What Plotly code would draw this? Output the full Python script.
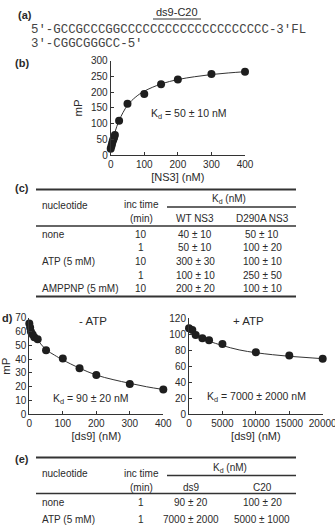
import plotly.graph_objects as go

W, H = 335, 525

# ---------------- data ----------------
seq_top = "5'-GCCGCCCGGCCCCCCCCCCCCCCCCCCCC-3'FL"
seq_bot = "3'-CGGCGGGCC-5'"

# (b) mP vs [NS3]
b_x = [0, 2, 4, 6, 8, 10, 12.5, 25, 50, 100, 150, 200, 300, 400]
b_y = [20, 28, 36, 44, 50, 56, 64, 109, 163, 194, 225, 240, 258, 265]
b_fit_x = [0, 5, 12.5, 25, 50, 75, 100, 150, 200, 250, 300, 350, 400]
b_fit_y = [20, 45, 72, 110, 158, 185, 203, 226, 240, 249, 256, 261, 265]
b_ticks = [0, 100, 200, 300, 400]
b_yticks = [0, 50, 100, 150, 200, 250, 300]

# (c) table
c_nuc = ["none", "", "ATP (5 mM)", "", "AMPPNP (5 mM)"]
c_time = ["10", "1", "10", "1", "10"]
c_wt = ["40 ± 10", "50 ± 10", "300 ± 30", "100 ± 10", "200 ± 20"]
c_mut = ["50 ± 10", "100 ± 20", "100 ± 10", "250 ± 50", "100 ± 10"]

# (d) - ATP
dl_x = [0, 2.5, 5, 10, 15, 25, 50, 100, 150, 200, 300, 400]
dl_y = [66, 63, 60, 58, 56, 54.5, 46.5, 40.5, 33.5, 28.5, 22, 18]
dl_fit_x = [0, 10, 25, 50, 75, 100, 150, 200, 250, 300, 350, 400]
dl_fit_y = [66, 60, 54, 47, 43, 39.5, 33.5, 28.5, 25.2, 22.5, 20, 18]
dl_ticks = [0, 100, 200, 300, 400]
dl_yticks = [0, 10, 20, 30, 40, 50, 60, 70]

# (d) + ATP
dr_x = [0, 500, 1000, 2000, 3000, 5000, 10000, 15000, 20000]
dr_y = [107.5, 105.5, 99, 95, 92.5, 88, 77.5, 73.5, 69.5]
dr_fit_x = [0, 500, 1000, 2000, 3000, 5000, 7500, 10000, 12500, 15000, 17500, 20000]
dr_fit_y = [108, 104, 100.5, 95.5, 91.5, 86, 80.5, 77, 74.5, 72.5, 71, 69.5]
dr_ticks = [0, 5000, 10000, 15000, 20000]
dr_yticks = [0, 20, 40, 60, 80, 100, 120]

# (e) table
e_nuc = ["none", "ATP (5 mM)"]
e_time = ["1", "1"]
e_ds9 = ["90 ± 20", "7000 ± 2000"]
e_c20 = ["100 ± 20", "5000 ± 1000"]

# ---------------- helpers ----------------
FONT = "Liberation Sans, Arial, sans-serif"
TXT = "#2a2a2a"
MK = "#1e1e1e"
TS = 10  # table font size


def px(x):
    return x / W


def py(y):
    return 1 - y / H


annotations = []
shapes = []


def text(x, y, s, size=10, xanchor="center", font=FONT, color=TXT):
    annotations.append(dict(x=px(x), y=py(y), xref="paper", yref="paper", text=s,
                            showarrow=False, xanchor=xanchor, yanchor="middle",
                            font=dict(size=size, family=font, color=color)))


def hline(x0, x1, y, w=1.5, color="#333"):
    shapes.append(dict(type="line", xref="paper", yref="paper", x0=px(x0), x1=px(x1),
                       y0=py(y), y1=py(y), line=dict(color=color, width=w)))


fig = go.Figure()

# ---------------- (a) ----------------
text(25, 15, "<b>(a)</b>", 11)
text(177, 12, "ds9-C20", 11)
hline(153, 201, 19, 1, "#333")
text(29, 30, seq_top, 12.4, "left", "Liberation Mono, Courier New, monospace", "#444")
text(29, 44, seq_bot, 12.4, "left", "Liberation Mono, Courier New, monospace", "#444")

# ---------------- (b) ----------------
fig.add_trace(go.Scatter(x=b_fit_x, y=b_fit_y, mode="lines", line=dict(color="#333", width=1, shape="spline"),
                         xaxis="x", yaxis="y", showlegend=False, hoverinfo="skip"))
fig.add_trace(go.Scatter(x=b_x, y=b_y, mode="markers", marker=dict(color=MK, size=8),
                         xaxis="x", yaxis="y", showlegend=False, cliponaxis=False))
text(22, 63, "<b>(b)</b>", 11)
text(189, 114, "K<sub>d</sub> = 50 ± 10 nM", 10.5)

# ---------------- (d) ----------------
fig.add_trace(go.Scatter(x=dl_fit_x, y=dl_fit_y, mode="lines", line=dict(color="#333", width=1, shape="spline"),
                         xaxis="x2", yaxis="y2", showlegend=False, hoverinfo="skip"))
fig.add_trace(go.Scatter(x=dl_x, y=dl_y, mode="markers", marker=dict(color=MK, size=8),
                         xaxis="x2", yaxis="y2", showlegend=False, cliponaxis=False))
fig.add_trace(go.Scatter(x=dr_fit_x, y=dr_fit_y, mode="lines", line=dict(color="#333", width=1, shape="spline"),
                         xaxis="x3", yaxis="y3", showlegend=False, hoverinfo="skip"))
fig.add_trace(go.Scatter(x=dr_x, y=dr_y, mode="markers", marker=dict(color=MK, size=8),
                         xaxis="x3", yaxis="y3", showlegend=False, cliponaxis=False))
text(7, 318, "<b>d)</b>", 11)
text(93, 321, "- ATP", 11.5)
text(248, 321, "+ ATP", 11.5)
text(91, 399, "K<sub>d</sub> = 90 ± 20 nM", 10.5)
text(256, 397, "K<sub>d</sub> = 7000 ± 2000 nM", 10.5)

# ---------------- (c) table ----------------
L, R = 36, 296
text(22, 188, "<b>(c)</b>", 11)
hline(L, R, 189.5, 2)
text(40, 205.5, "nucleotide", TS, "left")
text(141, 205, "inc time", TS)
text(141, 218.5, "(min)", TS)
text(229, 199, "K<sub>d</sub> (nM)", TS)
hline(167, R, 207, 1.5)
text(195, 218.5, "WT NS3", TS)
text(262, 218.5, "D290A NS3", TS)
hline(L, R, 226, 1.5)
c_rows_y = [234, 247.7, 261, 275, 288.3]
for i, yy in enumerate(c_rows_y):
    if c_nuc[i]:
        text(40, yy, c_nuc[i], TS, "left")
    text(141, yy, c_time[i], TS)
    text(195, yy, c_wt[i], TS)
    text(262, yy, c_mut[i], TS)
hline(L, R, 296.5, 2)

# ---------------- (e) table ----------------
text(22, 459, "<b>(e)</b>", 11)
hline(L, R, 457.5, 2)
text(40, 474, "nucleotide", TS, "left")
text(141, 474, "inc time", TS)
text(141, 487, "(min)", TS)
text(230, 468, "K<sub>d</sub> (nM)", TS)
hline(167, R, 475.5, 1.5)
text(191, 487, "ds9", TS)
text(262, 487, "C20", TS)
hline(L, R, 493.5, 1.5)
for i, yy in enumerate([502.7, 519]):
    text(40, yy, e_nuc[i], TS, "left")
    text(141, yy, e_time[i], TS)
    text(191, yy, e_ds9[i], TS)
    text(262, yy, e_c20[i], TS)

# ---------------- axes ----------------
ax_common = dict(showgrid=False, zeroline=False, showline=True, linecolor="#333", linewidth=1,
                 ticks="inside", ticklen=3, tickcolor="#333", tickwidth=1,
                 tickfont=dict(size=10, family=FONT, color=TXT), automargin=False,
                 ticklabeloverflow="allow")


def tk(vals):
    return dict(tickmode="array", tickvals=vals, ticktext=[str(v) for v in vals])


fig.update_layout(
    width=W, height=H, margin=dict(l=0, r=0, t=0, b=0),
    paper_bgcolor="white", plot_bgcolor="white",
    font=dict(family=FONT, color=TXT),
    annotations=annotations, shapes=shapes,
    xaxis=dict(domain=[px(110.7), px(245)], range=[0, 400], **tk(b_ticks),
               anchor="y", title=dict(text="[NS3] (nM)", font=dict(size=11), standoff=4), **ax_common),
    yaxis=dict(domain=[py(155), py(60.7)], range=[0, 300], **tk(b_yticks),
               anchor="x", title=dict(text="mP", font=dict(size=11.5), standoff=5), **ax_common),
    xaxis2=dict(domain=[px(29.3), px(163.3)], range=[0, 400], **tk(dl_ticks),
                anchor="y2", title=dict(text="[ds9] (nM)", font=dict(size=11), standoff=4), **ax_common),
    yaxis2=dict(domain=[py(414.3), py(317.9)], range=[0, 70], **tk(dl_yticks),
                anchor="x2", title=dict(text="mP", font=dict(size=11.5), standoff=2), **ax_common),
    xaxis3=dict(domain=[px(189), px(322.7)], range=[0, 20000], **tk(dr_ticks),
                anchor="y3", title=dict(text="[ds9] (nM)", font=dict(size=11), standoff=4), **ax_common),
    yaxis3=dict(domain=[py(414.3), py(318.3)], range=[0, 120], **tk(dr_yticks),
                anchor="x3", **ax_common),
)

fig.write_html("out.html")
